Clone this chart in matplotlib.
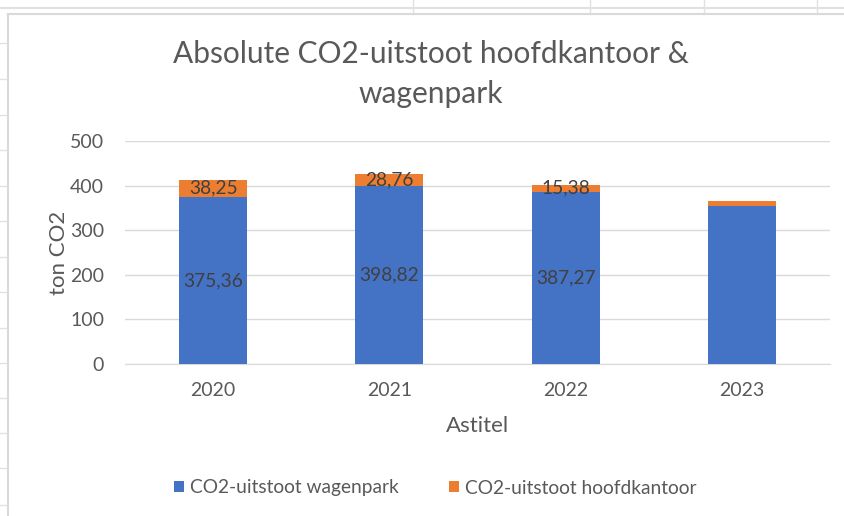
import matplotlib
matplotlib.use("Agg")
import matplotlib.pyplot as plt
from matplotlib.lines import Line2D
import numpy as np

plt.rcParams['font.family'] = ['Lato', 'DejaVu Sans']

years = ["2020", "2021", "2022", "2023"]
wagenpark = [375.36, 398.82, 387.27, 355.0]
hoofdkantoor = [38.25, 28.76, 15.38, 12.0]
label_wagenpark = ["375,36", "398,82", "387,27", ""]
label_hoofdkantoor = ["38,25", "28,76", "15,38", ""]
yticks = [0, 100, 200, 300, 400, 500]

W, H = 845, 516
fig = plt.figure(figsize=(W/100, H/100), dpi=100)
fig.patch.set_facecolor("white")

# spreadsheet background lines
gc = "#e1e1e1"
def hline(y, x0, x1, lw=1.0, c=gc):
    fig.add_artist(Line2D([x0/W, x1/W], [1-y/H, 1-y/H], color=c, lw=lw))
def vline(x, y0, y1, lw=1.0, c=gc):
    fig.add_artist(Line2D([x/W, x/W], [1-y0/H, 1-y1/H], color=c, lw=lw))

hline(8, 0, W, lw=1.5)
for y in [43, 79, 115, 150, 186, 221, 257, 292, 328, 363, 398, 433, 468, 505]:
    hline(y, 0, 8)
for x in [413, 590, 704, 817]:
    vline(x, 0, 14)
# chart area border
vline(8, 14, H, lw=1.5, c="#d9d9d9")
hline(14, 8, W, lw=1.5, c="#d9d9d9")

ax = fig.add_axes([125/W, 1-364/H, 705/W, (364-141.3)/H])
x = np.arange(len(years))
bw = 0.385
b1 = ax.bar(x, wagenpark, width=bw, color="#4472C4", label="CO2-uitstoot wagenpark", zorder=3)
b2 = ax.bar(x, hoofdkantoor, width=bw, bottom=wagenpark, color="#ED7D31",
            label="CO2-uitstoot hoofdkantoor", zorder=3)

for i in range(len(years)):
    if label_wagenpark[i]:
        ax.text(x[i], wagenpark[i]/2, label_wagenpark[i], ha="center", va="center",
                fontsize=13.8, color="#404040", zorder=4)
    if label_hoofdkantoor[i]:
        ax.text(x[i], wagenpark[i] + hoofdkantoor[i]/2, label_hoofdkantoor[i],
                ha="center", va="center", fontsize=13.8, color="#404040", zorder=4)

ax.set_xlim(-0.5, len(years)-0.5)
ax.set_ylim(0, 500)
ax.set_yticks(yticks)
ax.set_yticklabels([str(v) for v in yticks])
ax.set_xticks(x)
ax.set_xticklabels(years)
ax.grid(axis="y", color="#d9d9d9", lw=1.0, zorder=0)
for s in ["top", "right", "left"]:
    ax.spines[s].set_visible(False)
ax.spines["bottom"].set_color("#d9d9d9")
ax.tick_params(axis="both", length=0, labelsize=14, labelcolor="#595959")
ax.tick_params(axis="y", pad=15)
ax.tick_params(axis="x", pad=13)

ax.set_ylabel("ton CO2", fontsize=16, color="#595959", labelpad=1)
ax.set_xlabel("Astitel", fontsize=16, color="#595959", labelpad=12)

fig.text(431/W, 1-74/H, "Absolute CO2-uitstoot hoofdkantoor &\nwagenpark", ha="center", va="center",
         fontsize=21.5, color="#595959", linespacing=1.55)

fig.legend(handles=[b1, b2], loc="center", bbox_to_anchor=(435/W, 1-488/H), ncol=2,
           frameon=False, fontsize=13.8, labelcolor="#595959", handlelength=0.55, handleheight=0.55,
           handletextpad=0.3, columnspacing=2.6)

fig.savefig("out.png", dpi=100, facecolor="white")
